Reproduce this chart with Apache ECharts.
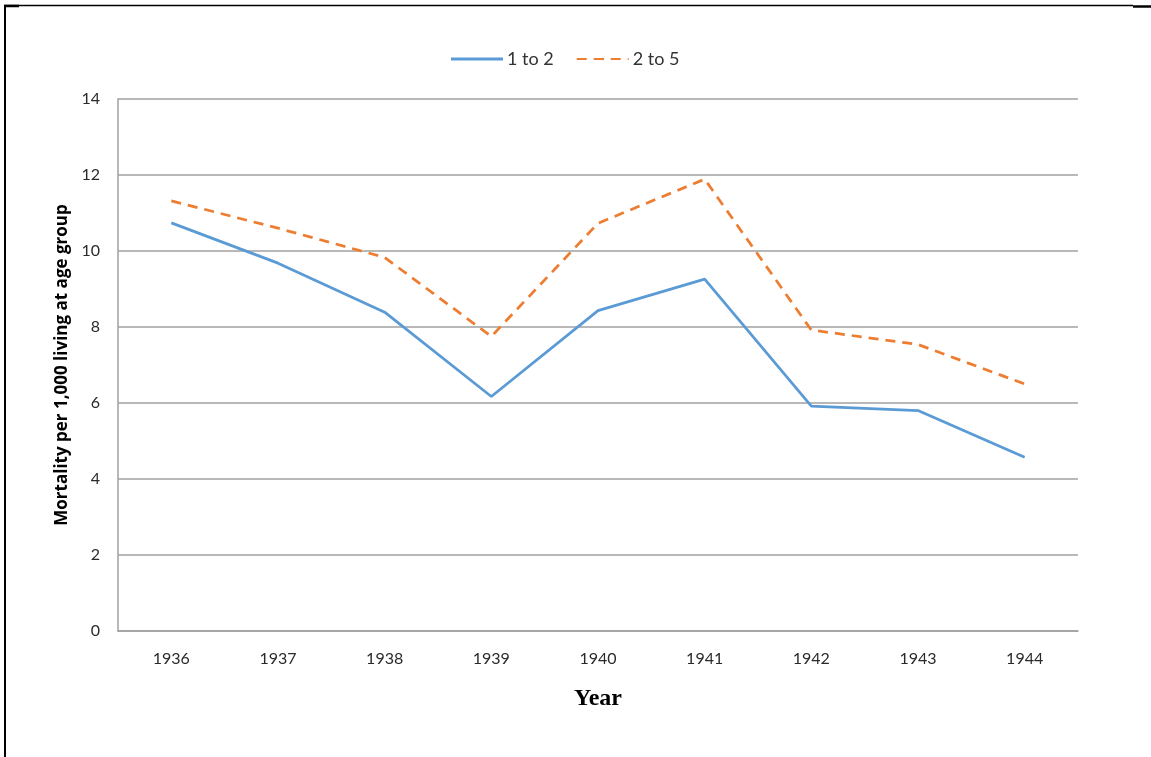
<!DOCTYPE html>
<html><head><meta charset="utf-8">
<script src="https://cdn.jsdelivr.net/npm/echarts@6/dist/echarts.min.js"></script>
<style>html,body{margin:0;padding:0;background:#fff}#c{width:1151px;height:757px}</style>
</head><body><div id="c"></div>
<script>
const years = ['1936','1937','1938','1939','1940','1941','1942','1943','1944'];
const age1to2 = [10.74, 9.68, 8.39, 6.17, 8.43, 9.26, 5.92, 5.80, 4.57];
const age2to5 = [11.32, 10.6, 9.83, 7.75, 10.73, 11.89, 7.92, 7.54, 6.5];
const yTicks = [0, 2, 4, 6, 8, 10, 12, 14];

const font = 'Lato, sans-serif';
const chart = echarts.init(document.getElementById('c'), null, {renderer: 'canvas'});
chart.setOption({
  animation: false,
  backgroundColor: '#fff',
  legend: {
    top: 50, left: 451, padding: 0, itemWidth: 52, itemHeight: 3, itemGap: 22,
    textStyle: {fontFamily: font, fontSize: 18, color: '#333', padding: [0, 0, 0, -1]},
    data: [
      {name: '1 to 2', icon: 'path://M0,0H52V3H0Z'},
      {name: '2 to 5'}
    ]
  },
  grid: {left: 118, right: 73, top: 99, bottom: 126, containLabel: false},
  xAxis: {
    type: 'category', data: years, boundaryGap: true,
    name: 'Year', nameLocation: 'middle', nameGap: 56,
    nameTextStyle: {fontFamily: 'Liberation Serif, serif', fontWeight: 'bold', fontSize: 24, color: '#000'},
    axisLine: {lineStyle: {color: '#a0a0a0', width: 1.5}},
    axisTick: {show: false},
    axisLabel: {fontFamily: font, fontSize: 16, color: '#2a2a2a', margin: 20}
  },
  yAxis: {
    type: 'value', min: yTicks[0], max: yTicks[yTicks.length-1], interval: 2,
    name: 'Mortality per 1,000 living at age group', nameLocation: 'middle', nameGap: 45,
    nameTextStyle: {fontFamily: 'Open Sans, sans-serif', fontWeight: 'bold', fontSize: 17, color: '#000'},
    axisLine: {show: true, lineStyle: {color: '#a0a0a0', width: 1.5}},
    axisTick: {show: false},
    axisLabel: {fontFamily: font, fontSize: 16, color: '#2a2a2a', margin: 18},
    splitLine: {lineStyle: {color: '#a0a0a0', width: 1.5}}
  },
  series: [
    {name: '1 to 2', type: 'line', data: age1to2, symbol: 'none',
     lineStyle: {color: '#5b9bd5', width: 2.75}, itemStyle: {color: '#5b9bd5'}},
    {name: '2 to 5', type: 'line', data: age2to5, symbol: 'none',
     lineStyle: {color: '#ed7d31', width: 2.75, type: [10, 7]}, itemStyle: {color: '#ed7d31'}}
  ],
  graphic: [
    {type: 'line', shape: {x1: 5, y1: 5, x2: 5, y2: 757}, style: {stroke: '#000', lineWidth: 2}},
    {type: 'line', shape: {x1: 4, y1: 5.5, x2: 1133, y2: 5.5}, style: {stroke: '#000', lineWidth: 1.5}},
    {type: 'line', shape: {x1: 4, y1: 6, x2: 19, y2: 6}, style: {stroke: '#000', lineWidth: 2.5}},
    {type: 'line', shape: {x1: 1133, y1: 6.5, x2: 1151, y2: 6.5}, style: {stroke: '#000', lineWidth: 2.5}}
  ]
});
</script></body></html>
